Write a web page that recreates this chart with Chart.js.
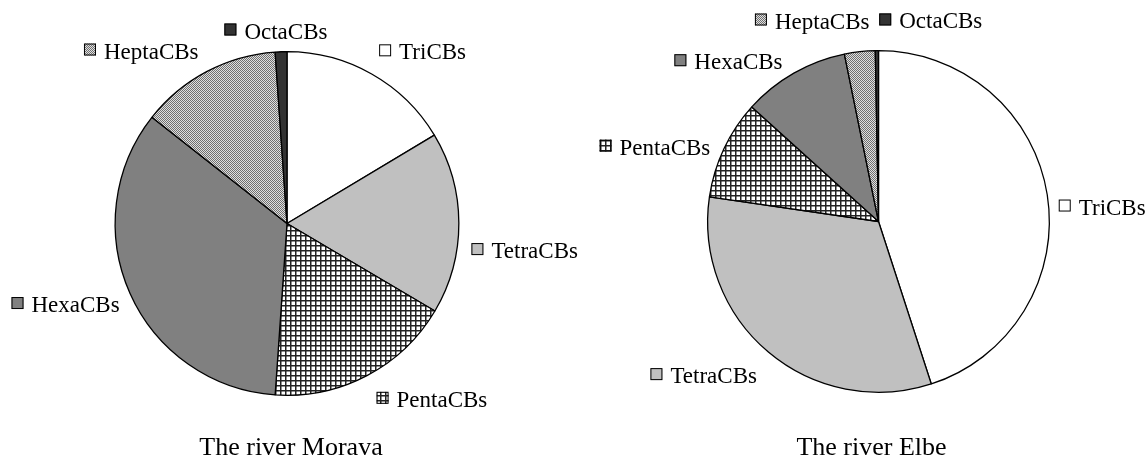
<!DOCTYPE html>
<html>
<head>
<meta charset="utf-8">
<script src="https://cdn.jsdelivr.net/npm/chart.js@4"></script>
<style>
  body { margin: 0; background: #fff; width: 1148px; height: 457px; position: relative; overflow: hidden; }
  .box { position: absolute; top: 0; height: 457px; }
</style>
</head>
<body>
<div class="box" style="left:0;width:600px;"><canvas id="moravaChart"></canvas></div>
<div class="box" style="left:580px;width:568px;"><canvas id="elbeChart"></canvas></div>
<script>
// 동족체 그룹
const labels = ['TriCBs', 'TetraCBs', 'PentaCBs', 'HexaCBs', 'HeptaCBs', 'OctaCBs'];

// 비율 (%)
const moravaValues = [16.4, 17.1, 17.6, 34.5, 13.3, 1.1];
const elbeValues = [45.0, 32.3, 9.4, 10.1, 2.9, 0.3];

// 라벨 위치: [각도(위에서 시계방향), 반지름 배수]
const moravaLabelPos = [[38.3, 1.273], [96.5, 1.392], [140.5, 1.326], [249.9, 1.372], [319.8, 1.314], [356.7, 1.122]];
const elbeLabelPos = [[86.3, 1.312], [228.6, 1.364], [288.4, 1.379], [316.8, 1.283], [341.7, 1.236], [14.6, 1.213]];

function makePattern(size, draw) {
    const c = document.createElement('canvas');
    c.width = size;
    c.height = size;
    const g = c.getContext('2d');
    draw(g);
    return document.createElement('canvas').getContext('2d').createPattern(c, 'repeat');
}

const gridPattern = makePattern(5, g => {
    g.fillStyle = '#fff';
    g.fillRect(0, 0, 5, 5);
    g.fillStyle = '#222';
    g.fillRect(0, 0, 5, 1.5);
    g.fillRect(0, 0, 1.5, 5);
});

const dotPattern = makePattern(2, g => {
    g.fillStyle = '#e0e0e0';
    g.fillRect(0, 0, 2, 2);
    g.fillStyle = '#707070';
    g.fillRect(0, 0, 1, 1);
    g.fillRect(1, 1, 1, 1);
});

const fills = ['#ffffff', '#c0c0c0', gridPattern, '#808080', dotPattern, '#333333'];

const labelFont = "23px 'Liberation Serif', 'Times New Roman', serif";
const titleFont = "26px 'Liberation Serif', 'Times New Roman', serif";

const pieLabels = {
    id: 'pieLabels',
    afterDatasetsDraw(chart, args, opts) {
        const ctx = chart.ctx;
        const arc = chart.getDatasetMeta(0).data[0];
        const cx = arc.x, cy = arc.y, r = arc.outerRadius;
        ctx.save();
        ctx.font = labelFont;
        ctx.textBaseline = 'alphabetic';
        ctx.textAlign = 'left';
        opts.positions.forEach((p, i) => {
            const a = (p[0] - 90) * Math.PI / 180;
            const x = cx + p[1] * r * Math.cos(a);
            const y = cy + p[1] * r * Math.sin(a);
            const text = chart.data.labels[i];
            const tw = ctx.measureText(text).width;
            const total = 20 + tw;
            const left = x - total / 2;
            const base = y + 7.5;
            ctx.fillStyle = fills[i];
            ctx.fillRect(left, base - 15, 12, 12);
            ctx.lineWidth = 1;
            ctx.strokeStyle = '#000';
            ctx.strokeRect(left + 0.5, base - 14.5, 11, 11);
            ctx.fillStyle = '#000';
            ctx.fillText(text, left + 20, base);
        });
        ctx.font = titleFont;
        ctx.textAlign = 'center';
        ctx.fillText(opts.title, cx + opts.titleShift, 455);
        ctx.restore();
    }
};

function makePie(id, values, positions, title, titleShift, padding) {
    return new Chart(document.getElementById(id).getContext('2d'), {
        type: 'pie',
        data: {
            labels: labels,
            datasets: [{
                data: values,
                backgroundColor: fills,
                borderColor: '#000',
                borderWidth: 1.3
            }]
        },
        options: {
            responsive: true,
            maintainAspectRatio: false,
            animation: false,
            layout: { padding: padding },
            plugins: {
                legend: { display: false },
                tooltip: { enabled: false },
                pieLabels: { positions: positions, title: title, titleShift: titleShift }
            }
        },
        plugins: [pieLabels]
    });
}

makePie('moravaChart', moravaValues, moravaLabelPos, 'The river Morava', 4, { top: 51, bottom: 61, left: 0, right: 26 });
makePie('elbeChart', elbeValues, elbeLabelPos, 'The river Elbe', -7, { top: 50, bottom: 64, left: 29, right: 0 });
</script>
</body>
</html>
